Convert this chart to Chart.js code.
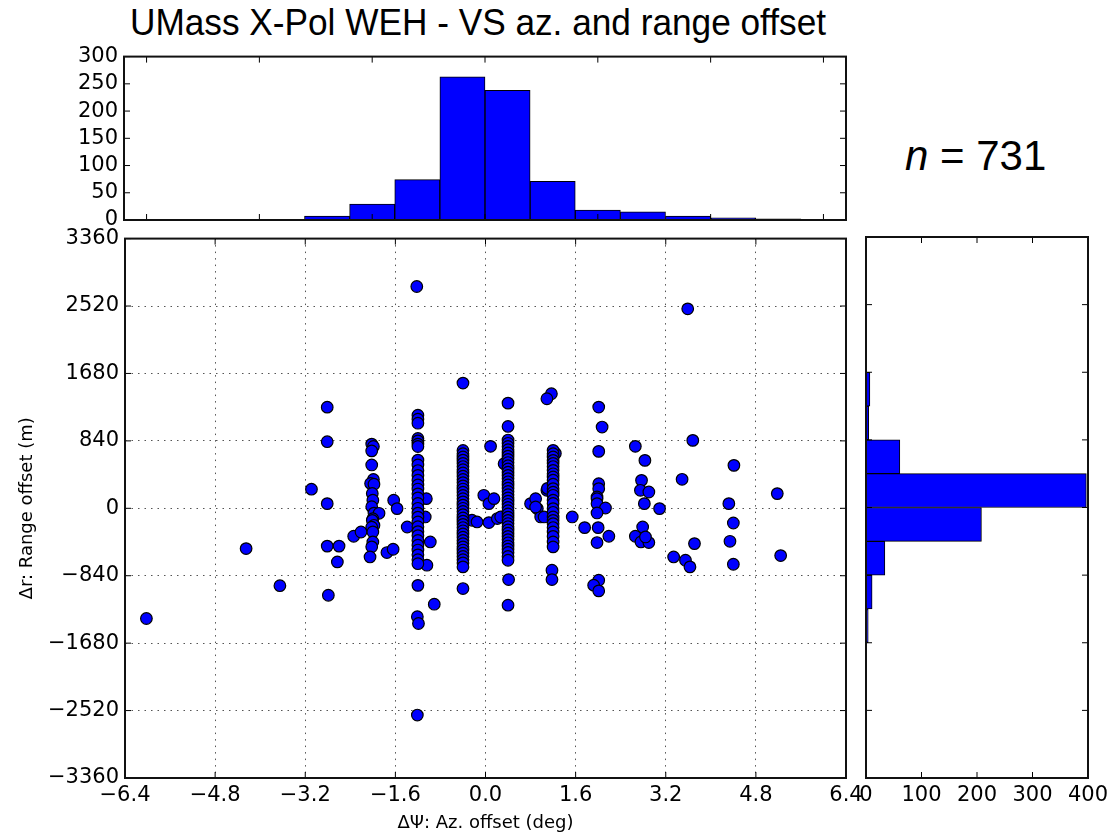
<!DOCTYPE html>
<html>
<head>
<meta charset="utf-8">
<script src="https://cdn.jsdelivr.net/npm/chart.js@4.4.1/dist/chart.umd.min.js"></script>
<style>
  body { margin: 0; background: #fff; width: 1118px; height: 838px; overflow: hidden; position: relative; }
  canvas { position: absolute; }
  #title { position: absolute; left: 130px; top: 3px; font-family: "Liberation Sans", Arial, sans-serif; font-size: 36px; line-height: 40px; white-space: nowrap; transform-origin: left top; color: #000; }
  #count { position: absolute; left: 905px; top: 132px; font-family: "Liberation Sans", Arial, sans-serif; font-size: 42px; line-height: 47px; white-space: nowrap; color: #000; }
</style>
</head>
<body>
<div id="title">UMass X-Pol WEH - VS az. and range offset</div>
<div id="count"><i>n</i> = 731</div>
<canvas id="topHist" width="860" height="202" style="left:0;top:38px"></canvas>
<canvas id="scatter" width="880" height="618" style="left:0;top:220px"></canvas>
<canvas id="rightHist" width="268" height="618" style="left:850px;top:220px"></canvas>
<script>
// ---- data ----
// tick values
const azTicks = [-6.4, -4.8, -3.2, -1.6, 0, 1.6, 3.2, 4.8, 6.4];
const rangeTicks = [-3360, -2520, -1680, -840, 0, 840, 1680, 2520, 3360];
const azHistTicks = [-6, -4, -2, 0, 2, 4, 6];
const azCountTicks = [0, 50, 100, 150, 200, 250, 300];
const rangeCountTicks = [0, 100, 200, 300, 400];

// azimuth histogram (0.8 deg bins)
const azBinCenters = [-6.0, -5.2, -4.4, -3.6, -2.8, -2.0, -1.2, -0.4, 0.4, 1.2, 2.0, 2.8, 3.6, 4.4, 5.2, 6.0];
const azBinCounts  = [1, 0, 1, 1, 7, 29, 74, 263, 238, 71, 18, 15, 7, 4, 2, 0];

// range histogram (420 m bins)
const rangeBinCenters = [-3150, -2730, -2310, -1890, -1470, -1050, -630, -210, 210, 630, 1050, 1470, 1890, 2310, 2730, 3150];
const rangeBinCounts  = [0, 1, 0, 0, 4, 11, 34, 208, 397, 61, 5, 7, 1, 1, 1, 0];

// dense columns of the scatter (az value, list of range values)
const columnAz = [-1.2, -0.4, 0.4, 1.2];
const colRangeA = [1160, 1110, 1060, 870, 840, 800, 770, 600, 540, 470, 410, 350, 290, 240, 180, 130, 60, 0,
  -60, -110, -170, -230, -290, -340, -400, -460, -520, -580, -640, -690];
const colRangeB = [720, 680, 640, 600, 560, 520, 480, 440, 400, 360, 320, 280, 240, 200, 160, 120, 80, 40, 0,
  -40, -80, -120, -160, -200, -240, -280, -320, -360, -400, -440, -480, -520, -560, -600, -640, -680, -730];
const colRangeC = [850, 810, 770, 730, 690, 650, 610, 570, 530, 490, 450, 410, 370, 330, 290, 250, 210, 170, 130,
  90, 50, 10, -30, -70, -110, -150, -190, -230, -270, -310, -350, -390, -430, -470, -510, -550, -600, -647];
const colRangeD = [722, 680, 640, 597, 560, 520, 473, 430, 390, 350, 300, 245, 200, 162, 100, 60, -4, -50,
  -108, -150, -191, -240, -295, -350, -419, -481];
const columnRanges = [colRangeA, colRangeB, colRangeC, colRangeD];

// scattered points
const looseAz = [
  -6.02, -4.25, -3.65, -3.09, -2.81, -2.81, -2.81, -2.81, -2.60, -2.63, -2.79, -2.34, -2.21,
  -2.02, -1.99, -2.02, -2.02, -1.99, -2.04, -1.98, -2.01, -2.00, -2.02, -1.98, -1.89, -2.00, -2.01, -1.98, -2.02, -2.00, -2.00, -2.02, -2.05,
  -1.63, -1.57, -1.75, -1.64,
  -1.05, -1.07, -1.39, -0.98, -1.04, -0.91, -1.20, -1.21, -1.19, -1.21, -1.22,
  -0.40, -0.40, -0.24, -0.15,
  0.09, -0.03, 0.06, 0.15, 0.06, 0.21, 0.27,
  0.40, 0.40, 0.33, 0.41, 0.40,
  0.80, 0.92, 0.98, 0.89, 0.89, 1.04, 1.09,
  1.17, 1.09, 1.24, 1.10, 1.18, 1.18,
  1.54, 1.76, 2.01, 2.07, 2.01, 2.01, 2.01, 1.98, 1.98, 1.98, 2.13, 1.98, 2.00, 2.19, 1.98, 2.01, 1.92, 2.01,
  2.66, 2.83, 2.77, 2.75, 2.90, 2.82, 3.09, 2.79, 2.66, 2.76, 2.90, 2.84,
  3.59, 3.68, 3.49, 3.71, 3.34, 3.55, 3.63, 4.41, 4.32, 4.40, 4.34, 4.40, 5.18, 5.24
];
const looseRange = [
  -1373, -502, -964, 238, 1260, 830, 58, -471, -471, -668, -1083, -348, -295,
  800, 770, 715, 540, 360, 310, 300, 185, 100, 20, -60, -62, -130, -150, -212, -235, -295, -420, -480, -606,
  100, -4, -551, -510,
  120, -108, -233, -419, -709, -1195, -960, -1350, -1435, -2576, 2763,
  1560, -1000, -149, -170,
  772, 162, 58, 120, -178, -128, -108,
  1310, 1020, 556, -888, -1207,
  58, -4, -108, 120, 16, -108, 224,
  1427, 1365, 684, 248, -772, -888,
  -108, -241, 1261, 1012, 709, 307, 245, 141, 120, 58, 4, -58, -241, -348, -427, -896, -958, -1029,
  772, 597, 348, 224, 203, 58, -4, -233, -348, -419, -427, -357,
  2485, 846, 361, -440, -606, -647, -730, 535, 58, -183, -411, -697, 183, -589
];

// ---- helpers ----
const minus = '\u2212';
const fmtAz = v => (v < 0 ? minus : '') + Math.abs(v).toFixed(1);
const fmtInt = v => (v < 0 ? minus : '') + Math.abs(v);
const tickFont = { family: 'DejaVu Sans', size: 21 };
const axisTitleFont = { family: 'DejaVu Sans', size: 18 };
const BLUE = '#0000ff';

const scatterPoints = looseAz.map((x, i) => ({ x, y: looseRange[i] }));
columnAz.forEach((x, c) => {
  columnRanges[c].forEach(y => scatterPoints.push({ x, y }));
});

// matplotlib-style frame with inward ticks on all four sides
const frameTicks = {
  id: 'frameTicks',
  afterDraw(chart) {
    const { ctx, chartArea: a, scales } = chart;
    const len = 6;
    ctx.save();
    ctx.strokeStyle = '#000';
    ctx.lineWidth = 1;
    ctx.beginPath();
    Object.values(scales).forEach(s => {
      s.ticks.forEach(t => {
        const p = s.getPixelForValue(t.value);
        if (s.isHorizontal()) {
          ctx.moveTo(p, a.top); ctx.lineTo(p, a.top + len);
          ctx.moveTo(p, a.bottom); ctx.lineTo(p, a.bottom - len);
        } else {
          ctx.moveTo(a.left, p); ctx.lineTo(a.left + len, p);
          ctx.moveTo(a.right, p); ctx.lineTo(a.right - len, p);
        }
      });
    });
    ctx.stroke();
    ctx.strokeStyle = '#111';
    ctx.lineWidth = 2;
    ctx.strokeRect(a.left, a.top, a.right - a.left, a.bottom - a.top);
    ctx.restore();
  }
};

const baseOpts = {
  responsive: false,
  animation: false,
  events: [],
  plugins: { legend: { display: false }, tooltip: { enabled: false } }
};

// ---- top histogram ----
new Chart(document.getElementById('topHist'), {
  type: 'bar',
  data: {
    datasets: [{
      data: azBinCenters.map((x, i) => ({ x, y: azBinCounts[i] })),
      backgroundColor: BLUE, borderColor: '#000', borderWidth: 1, borderSkipped: false,
      barPercentage: 1, categoryPercentage: 1
    }]
  },
  options: {
    ...baseOpts,
    layout: { padding: { top: 13, right: 14, left: 0, bottom: 0 } },
    scales: {
      x: {
        type: 'linear', min: -6.4, max: 6.4, offset: false,
        afterBuildTicks: s => { s.ticks = azHistTicks.map(v => ({ value: v })); },
        afterFit: s => { s.height = 20; },
        ticks: { display: false },
        grid: { display: false }, border: { display: false }
      },
      y: {
        min: 0, max: 300,
        afterBuildTicks: s => { s.ticks = azCountTicks.map(v => ({ value: v })); },
        afterFit: s => { s.width = 124; },
        ticks: { font: tickFont, color: '#000', padding: 6, autoSkip: false },
        grid: { display: false, drawTicks: false }, border: { display: false }
      }
    }
  },
  plugins: [frameTicks]
});

// ---- main scatter ----
new Chart(document.getElementById('scatter'), {
  type: 'scatter',
  data: {
    datasets: [{
      data: scatterPoints,
      backgroundColor: BLUE, borderColor: '#000', borderWidth: 1.2,
      pointRadius: 5.8, pointHoverRadius: 5.8
    }]
  },
  options: {
    ...baseOpts,
    layout: { padding: { top: 17, right: 34, left: 0, bottom: 0 } },
    scales: {
      x: {
        type: 'linear', min: -6.4, max: 6.4,
        afterBuildTicks: s => { s.ticks = azTicks.map(v => ({ value: v })); },
        afterFit: s => { s.height = 60; },
        ticks: { font: tickFont, color: '#000', padding: 5, maxRotation: 0, autoSkip: false, callback: v => fmtAz(v) },
        grid: { color: '#555', lineWidth: 1, drawTicks: false },
        border: { display: false, dash: [1.5, 5] },
        title: { display: true, text: '\u0394\u03a8: Az. offset (deg)', font: axisTitleFont, color: '#000', padding: { top: 0, bottom: 4 } }
      },
      y: {
        type: 'linear', min: -3360, max: 3360,
        afterBuildTicks: s => { s.ticks = rangeTicks.map(v => ({ value: v })); },
        afterFit: s => { s.width = 125; },
        ticks: { font: tickFont, color: '#000', padding: 6, autoSkip: false, callback: v => fmtInt(v) },
        grid: { color: '#555', lineWidth: 1, drawTicks: false },
        border: { display: false, dash: [1.5, 5] },
        title: { display: true, text: '\u0394r: Range offset (m)', font: axisTitleFont, color: '#000', padding: { top: 17, bottom: 0 } }
      }
    }
  },
  plugins: [frameTicks]
});

// ---- right histogram ----
new Chart(document.getElementById('rightHist'), {
  type: 'bar',
  data: {
    datasets: [{
      data: rangeBinCenters.map((y, i) => ({ x: rangeBinCounts[i], y })),
      backgroundColor: BLUE, borderColor: '#000', borderWidth: 1, borderSkipped: false,
      barPercentage: 1, categoryPercentage: 1
    }]
  },
  options: {
    ...baseOpts,
    indexAxis: 'y',
    layout: { padding: { top: 17, right: 30, left: 0, bottom: 0 } },
    scales: {
      y: {
        type: 'linear', min: -3360, max: 3360, offset: false,
        afterBuildTicks: s => { s.ticks = rangeTicks.map(v => ({ value: v })); },
        afterFit: s => { s.width = 16; },
        ticks: { display: false },
        grid: { display: false }, border: { display: false }
      },
      x: {
        type: 'linear', min: 0, max: 400,
        afterBuildTicks: s => { s.ticks = rangeCountTicks.map(v => ({ value: v })); },
        afterFit: s => { s.height = 60; },
        ticks: { font: tickFont, color: '#000', padding: 5, maxRotation: 0, autoSkip: false },
        grid: { display: false, drawTicks: false }, border: { display: false }
      }
    }
  },
  plugins: [frameTicks]
});

// squeeze the title to the width it has in the picture
const titleEl = document.getElementById('title');
const w = titleEl.getBoundingClientRect().width;
titleEl.style.transform = 'scaleX(' + (696 / w) + ')';
</script>
</body>
</html>
